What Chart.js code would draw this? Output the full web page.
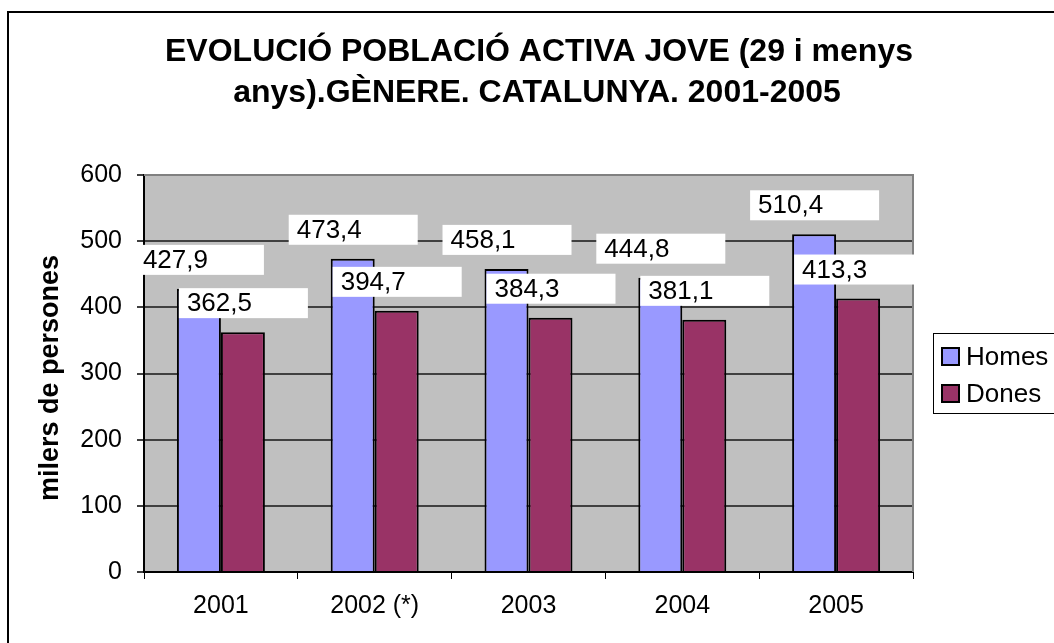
<!DOCTYPE html>
<html>
<head>
<meta charset="utf-8">
<script src="https://cdn.jsdelivr.net/npm/chart.js@4.4.1/dist/chart.umd.min.js"></script>
<style>
  html, body { margin: 0; padding: 0; background: #fff; }
  #wrap { width: 1054px; height: 643px; }
</style>
</head>
<body>
<div id="wrap"><canvas id="chart" width="1054" height="643"></canvas></div>
<script>
// data
const years = ["2001", "2002 (*)", "2003", "2004", "2005"];
const homes = [427.9, 473.4, 458.1, 444.8, 510.4];
const dones = [362.5, 394.7, 384.3, 381.1, 413.3];
const titleLines = ["EVOLUCIÓ POBLACIÓ ACTIVA JOVE (29 i menys", "anys).GÈNERE. CATALUNYA. 2001-2005"];
const yTitle = "milers de persones";

const FONT = "Arial, 'Liberation Sans', sans-serif";

// background, frame, title, axis title, value boxes, legend
const decor = {
    id: "decor",
    beforeDraw(chart) {
        const ctx = chart.ctx;
        const a = chart.chartArea;
        ctx.save();
        ctx.fillStyle = "#fff";
        ctx.fillRect(0, 0, chart.width, chart.height);
        ctx.strokeStyle = "#000";
        ctx.lineWidth = 2;
        ctx.strokeRect(8, 12, chart.width + 20, chart.height + 20);
        ctx.fillStyle = "#c0c0c0";
        ctx.fillRect(a.left, a.top, a.right - a.left, a.bottom - a.top);
        ctx.restore();
    },
    beforeDatasetsDraw(chart) {
        const ctx = chart.ctx;
        const a = chart.chartArea;
        ctx.save();
        ctx.strokeStyle = "#808080";
        ctx.lineWidth = 2;
        ctx.beginPath();
        ctx.moveTo(a.left, a.top);
        ctx.lineTo(a.right, a.top);
        ctx.lineTo(a.right, a.bottom);
        ctx.stroke();
        ctx.restore();
    },
    afterDatasetsDraw(chart) {
        const ctx = chart.ctx;
        ctx.save();
        ctx.font = "26px " + FONT;
        ctx.textBaseline = "middle";
        ctx.textAlign = "left";
        chart.data.datasets.forEach((ds, i) => {
            chart.getDatasetMeta(i).data.forEach((bar, j) => {
                const left = bar.x - 64;
                const top = bar.y - 14 - 30;
                ctx.fillStyle = "#fff";
                ctx.fillRect(left, top, 129, 30);
                ctx.fillStyle = "#000";
                ctx.fillText(ds.data[j].toFixed(1).replace(".", ","), left + 8, top + 16);
            });
        });
        ctx.restore();
    },
    afterDraw(chart) {
        const ctx = chart.ctx;
        ctx.save();
        // title
        ctx.fillStyle = "#000";
        ctx.font = "bold 32px " + FONT;
        ctx.textAlign = "center";
        ctx.textBaseline = "alphabetic";
        ctx.fillText(titleLines[0], 539, 61);
        ctx.fillText(titleLines[1], 537, 102);
        // y axis title
        ctx.save();
        ctx.translate(58, 378);
        ctx.rotate(-Math.PI / 2);
        ctx.font = "bold 27px " + FONT;
        ctx.fillText(yTitle, 0, 0);
        ctx.restore();
        // legend
        ctx.strokeStyle = "#000";
        ctx.lineWidth = 1;
        ctx.strokeRect(933.5, 333.5, 140, 80);
        ctx.font = "26px " + FONT;
        ctx.textAlign = "left";
        chart.data.datasets.forEach((ds, i) => {
            const y = 348 + i * 37;
            ctx.fillStyle = ds.backgroundColor;
            ctx.fillRect(942, y, 17, 17);
            ctx.lineWidth = 2;
            ctx.strokeRect(942, y, 17, 17);
            ctx.fillStyle = "#000";
            ctx.fillText(ds.label, 966, y + 17);
        });
        ctx.restore();
    }
};

new Chart(document.getElementById("chart"), {
    type: "bar",
    data: {
        labels: years,
        datasets: [
            { label: "Homes", data: homes, backgroundColor: "#9999ff", borderColor: "#000", borderWidth: 2 },
            { label: "Dones", data: dones, backgroundColor: "#993366", borderColor: "#000", borderWidth: 2 }
        ]
    },
    options: {
        responsive: false,
        animation: false,
        events: [],
        layout: { padding: { top: 175, right: 141, bottom: 0, left: 0 } },
        datasets: { bar: { categoryPercentage: 0.572, barPercentage: 1 } },
        plugins: {
            legend: { display: false },
            title: { display: false },
            tooltip: { enabled: false }
        },
        scales: {
            x: {
                afterFit(s) { s.height = 71; },
                grid: { drawOnChartArea: false, drawTicks: true, tickLength: 7, color: "#000", lineWidth: 1 },
                border: { color: "#000", width: 2 },
                ticks: { color: "#000", font: { size: 25, family: FONT }, padding: 12, maxRotation: 0 }
            },
            y: {
                min: 0,
                max: 600,
                afterFit(s) { s.width = 144; },
                grid: { color: "#404040", lineWidth: 2, tickLength: 7 },
                border: { color: "#000", width: 2 },
                ticks: { stepSize: 100, color: "#000", font: { size: 25, family: FONT }, padding: 15 }
            }
        }
    },
    plugins: [decor]
});
</script>
</body>
</html>
